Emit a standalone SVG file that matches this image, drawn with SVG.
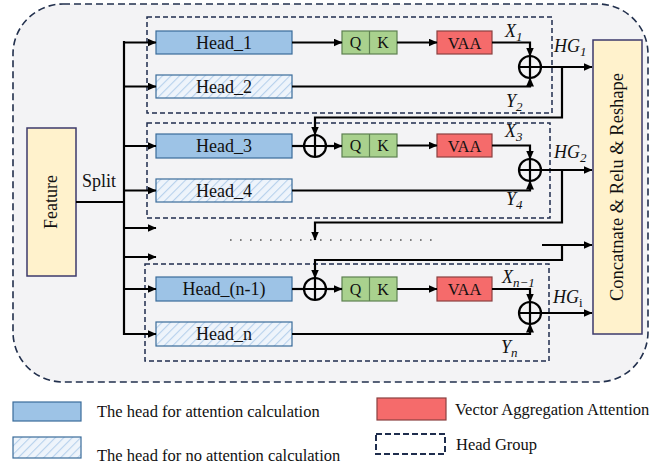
<svg xmlns="http://www.w3.org/2000/svg" width="652" height="465" viewBox="0 0 652 465">
<defs>
<marker id="ah" markerUnits="userSpaceOnUse" markerWidth="9" markerHeight="8" refX="8.5" refY="4" orient="auto">
<path d="M0,0 L9,4 L0,8 z" fill="#000"/>
</marker>
<pattern id="hatch" patternUnits="userSpaceOnUse" width="6" height="6" patternTransform="rotate(45)">
<rect width="6" height="6" fill="#EEF4FB"/>
<line x1="0" y1="0" x2="0" y2="6" stroke="#B7D1EC" stroke-width="2.2"/>
</pattern>
<style>
.t{font-family:"Liberation Serif","Times New Roman",serif;fill:#111}
.m{font-family:"Liberation Serif","Times New Roman",serif;font-style:italic;fill:#111}
.att{fill:#9DC3E6;stroke:#3A6C9A;stroke-width:1.2}
.noatt{fill:url(#hatch);stroke:#3A6C9A;stroke-width:1.2}
.qk{fill:#A9D18E;stroke:#5E8050;stroke-width:1.2}
.vaa{fill:#F56B6B;stroke:#8A4040;stroke-width:1.2}
.yel{fill:#FFF2CC;stroke:#3D3A6B;stroke-width:1.5}
.grp{fill:none;stroke:#1F2D4D;stroke-width:1.5;stroke-dasharray:5,3}
.ln{fill:none;stroke:#000;stroke-width:2.2}
.ar{fill:none;stroke:#000;stroke-width:2.2;marker-end:url(#ah)}
.op{fill:none;stroke:#000;stroke-width:2.2}
</style>
</defs>

<rect x="13" y="4" width="635" height="378" rx="50" fill="#F3F3F5" stroke="#22304D" stroke-width="1.6" stroke-dasharray="7,4"/>

<g id="groups">
<rect class="grp" x="147" y="17" width="405" height="96"/>
<rect class="grp" x="147" y="123" width="403" height="95"/>
<rect class="grp" x="145" y="264" width="404" height="97"/>
</g>

<g id="feature">
<rect class="yel" x="27" y="128" width="49" height="148"/>
<text class="t" x="51" y="202" font-size="18" text-anchor="middle" dominant-baseline="central" transform="rotate(-90 51 202)">Feature</text>
</g>
<text class="t" x="82" y="187" font-size="18">Split</text>

<g id="concat">
<rect class="yel" x="593" y="40" width="49" height="294"/>
<text class="t" x="617" y="187" font-size="18.5" text-anchor="middle" dominant-baseline="central" transform="rotate(-90 617 187)">Concatnate &amp; Relu &amp; Reshape</text>
</g>

<g id="head1"><rect class="att" x="156" y="31" width="136" height="23"/><text class="t" x="224" y="48.5" font-size="18" text-anchor="middle">Head_1</text></g>
<g id="head2"><rect class="noatt" x="156" y="75" width="136" height="23"/><text class="t" x="224" y="92.5" font-size="18" text-anchor="middle">Head_2</text></g>
<g id="head3"><rect class="att" x="156" y="134" width="136" height="24"/><text class="t" x="224" y="152" font-size="18" text-anchor="middle">Head_3</text></g>
<g id="head4"><rect class="noatt" x="156" y="179" width="136" height="23"/><text class="t" x="224" y="196.5" font-size="18" text-anchor="middle">Head_4</text></g>
<g id="headn1"><rect class="att" x="156" y="277" width="136" height="24"/><text class="t" x="224" y="295" font-size="18" text-anchor="middle">Head_(n-1)</text></g>
<g id="headn"><rect class="noatt" x="156" y="322" width="136" height="24"/><text class="t" x="224" y="340" font-size="18" text-anchor="middle">Head_n</text></g>

<g id="qk1"><rect class="qk" x="342" y="31" width="55" height="23"/><line x1="369.5" y1="31" x2="369.5" y2="54" stroke="#5E8050" stroke-width="1.2"/><text class="t" x="355.5" y="48" font-size="16" text-anchor="middle">Q</text><text class="t" x="383" y="48" font-size="16" text-anchor="middle">K</text></g>
<g id="qk2"><rect class="qk" x="342" y="134" width="55" height="23"/><line x1="369.5" y1="134" x2="369.5" y2="157" stroke="#5E8050" stroke-width="1.2"/><text class="t" x="355.5" y="151" font-size="16" text-anchor="middle">Q</text><text class="t" x="383" y="151" font-size="16" text-anchor="middle">K</text></g>
<g id="qk3"><rect class="qk" x="342" y="277" width="55" height="24"/><line x1="369.5" y1="277" x2="369.5" y2="301" stroke="#5E8050" stroke-width="1.2"/><text class="t" x="355.5" y="295" font-size="16" text-anchor="middle">Q</text><text class="t" x="383" y="295" font-size="16" text-anchor="middle">K</text></g>

<g id="vaa1"><rect class="vaa" x="437" y="31" width="55" height="23"/><text class="t" x="464.5" y="48.5" font-size="16.5" text-anchor="middle">VAA</text></g>
<g id="vaa2"><rect class="vaa" x="437" y="134" width="55" height="23"/><text class="t" x="464.5" y="151.5" font-size="16.5" text-anchor="middle">VAA</text></g>
<g id="vaa3"><rect class="vaa" x="437" y="277" width="55" height="24"/><text class="t" x="464.5" y="295" font-size="16.5" text-anchor="middle">VAA</text></g>

<g id="add1"><circle class="op" cx="530" cy="67" r="11"/><path class="op" d="M519,67 H541 M530,56 V78"/></g>
<g id="add2"><circle class="op" cx="530" cy="170" r="11"/><path class="op" d="M519,170 H541 M530,159 V181"/></g>
<g id="add3"><circle class="op" cx="530" cy="313" r="11"/><path class="op" d="M519,313 H541 M530,302 V324"/></g>
<g id="addin2"><circle class="op" cx="315" cy="146" r="11"/><path class="op" d="M304,146 H326 M315,135 V157"/></g>
<g id="addin3"><circle class="op" cx="315" cy="289" r="11"/><path class="op" d="M304,289 H326 M315,278 V300"/></g>

<g id="connectors">
<path class="ln" d="M76,202 H124 M124,41 V335"/>
<path class="ar" d="M123,42.5 H156"/>
<path class="ar" d="M123,86.5 H156"/>
<path class="ar" d="M123,146 H156"/>
<path class="ar" d="M123,190.5 H156"/>
<path class="ar" d="M123,228 H156"/>
<path class="ar" d="M123,257 H156"/>
<path class="ar" d="M123,289 H156"/>
<path class="ar" d="M123,334 H156"/>

<path class="ar" d="M292,42.5 H342"/>
<path class="ar" d="M397,42.5 H437"/>
<path class="ar" d="M492,42.5 H530 V56"/>
<path class="ar" d="M292,86.5 H530 V78"/>
<path class="ar" d="M541,67 H592"/>
<path class="ar" d="M562,67 V117.5 H315 V135"/>

<path class="ln" d="M292,146 H304"/>
<path class="ar" d="M326,146 H342"/>
<path class="ar" d="M397,145.5 H437"/>
<path class="ar" d="M492,145.5 H530 V159"/>
<path class="ar" d="M292,190.5 H530 V181"/>
<path class="ar" d="M541,170 H592"/>
<path class="ar" d="M562,170 V222.5 H315 V240"/>

<path class="ar" d="M542,245 H592"/>
<path class="ar" d="M562,245 V260 H315 V278"/>

<path class="ln" d="M292,289 H304"/>
<path class="ar" d="M326,289 H342"/>
<path class="ar" d="M397,289 H437"/>
<path class="ar" d="M492,289 H530 V302"/>
<path class="ar" d="M292,334 H530 V324"/>
<path class="ar" d="M541,313 H592"/>

<line x1="230" y1="240" x2="438" y2="240" stroke="#555" stroke-width="1.6" stroke-dasharray="1.6,8.4"/>
</g>

<g id="labels">
<text class="m" x="505" y="37" font-size="18">X<tspan font-size="13" dy="4">1</tspan></text>
<text class="m" x="554" y="52" font-size="18">HG<tspan font-size="13" dy="4">1</tspan></text>
<text class="m" x="506" y="107" font-size="18">Y<tspan font-size="13" dy="4">2</tspan></text>
<text class="m" x="505" y="137" font-size="18">X<tspan font-size="13" dy="4">3</tspan></text>
<text class="m" x="554" y="158" font-size="18">HG<tspan font-size="13" dy="4">2</tspan></text>
<text class="m" x="506" y="205" font-size="18">Y<tspan font-size="13" dy="4">4</tspan></text>
<text class="m" x="502" y="283" font-size="18">X<tspan font-size="13" dy="4">n−1</tspan></text>
<text class="m" x="553" y="303" font-size="18">HG<tspan font-size="13" dy="4" font-style="normal">i</tspan></text>
<text class="m" x="501" y="353" font-size="18">Y<tspan font-size="13" dy="4">n</tspan></text>
</g>

<g id="legend">
<rect class="att" x="13" y="402" width="68" height="19"/>
<text class="t" x="97" y="417" font-size="16.5">The head for attention calculation</text>
<rect class="noatt" x="13" y="437" width="68" height="21"/>
<text class="t" x="97" y="461" font-size="16.5">The head for no attention calculation</text>
<rect class="vaa" x="377" y="398" width="69" height="22"/>
<text class="t" x="455" y="415" font-size="16.5">Vector Aggregation Attention</text>
<rect x="376" y="434" width="69" height="20" fill="none" stroke="#1F2D4D" stroke-width="2" stroke-dasharray="6,3"/>
<text class="t" x="456" y="450" font-size="16.5">Head Group</text>
</g>
</svg>
